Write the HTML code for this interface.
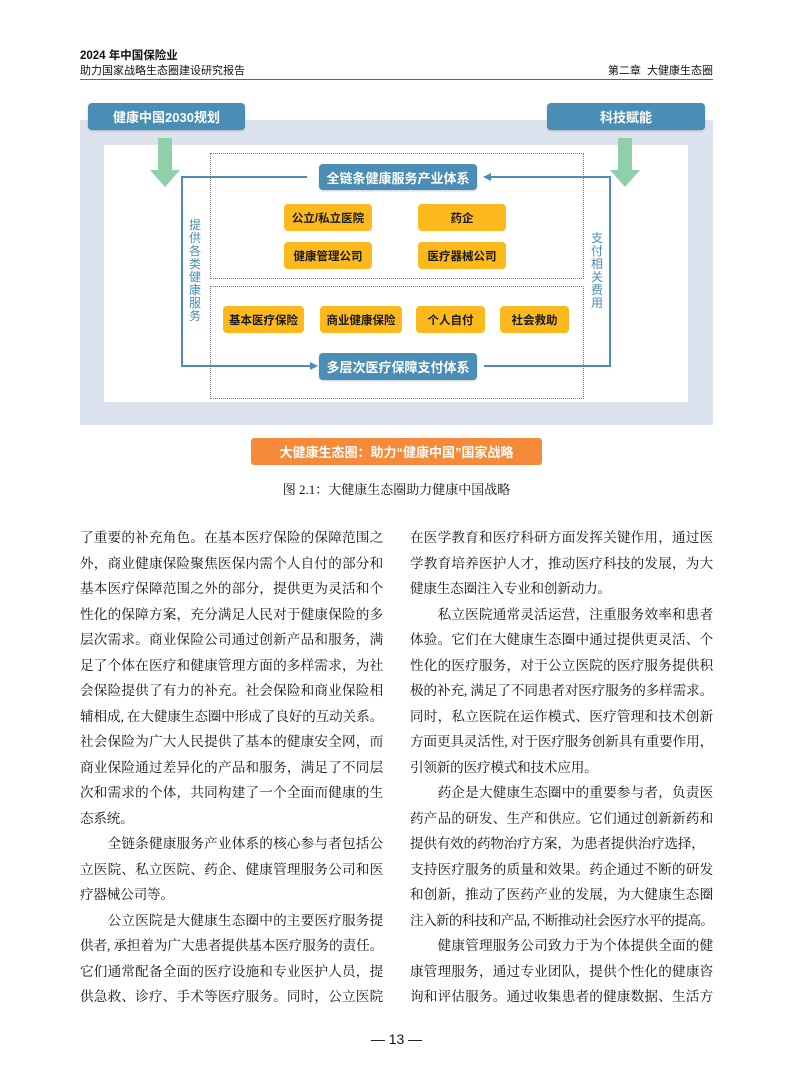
<!DOCTYPE html>
<html><head><meta charset="utf-8"><style>
body{margin:0;width:793px;height:1077px;background:#fff;position:relative;overflow:hidden;font-family:"Liberation Sans","Noto Sans CJK SC",sans-serif;color:#111}
.a{position:absolute}
.bb{position:absolute;background:#4a8db5;color:#fff;font-weight:bold;font-size:13px;display:flex;align-items:center;justify-content:center;border-radius:4px;box-shadow:0 1px 2px rgba(0,0,0,.2)}
.ob{position:absolute;background:#fbb91d;color:#1a1a1a;font-weight:bold;font-size:11.5px;display:flex;align-items:center;justify-content:center;border-radius:4px}
.dot{position:absolute;border:1.5px dotted #777}
.vt{position:absolute;color:#4a8db5;font-size:12px;width:14px;line-height:13px;text-align:center}
.col{position:absolute;width:303px;font-family:"Liberation Serif","Noto Serif CJK SC",serif;font-size:13.6px}
.col div{height:25.5px;line-height:25.5px;text-align:justify;text-align-last:justify;white-space:nowrap;letter-spacing:-0.2px}
.col div.l{text-align-last:left}
.col div.t{letter-spacing:-0.9px}
</style></head><body>
<div class="a" style="left:80px;top:47px;font-size:11.5px;font-weight:bold">2024 年中国保险业</div>
<div class="a" style="left:80px;top:62px;font-size:11px">助力国家战略生态圈建设研究报告</div>
<div class="a" style="right:80px;top:62px;font-size:11px">第二章&nbsp; 大健康生态圈</div>
<div class="a" style="left:80px;top:79px;width:633px;height:1px;background:#666"></div>

<div class="a" style="left:80px;top:120px;width:633px;height:305px;background:#dce3ee"></div>
<div class="a" style="left:104px;top:145px;width:584px;height:257px;background:#fff"></div>
<div class="bb" style="left:88px;top:103px;width:157px;height:27px">健康中国2030规划</div>
<div class="bb" style="left:547px;top:103px;width:158px;height:27px">科技赋能</div>
<svg class="a" style="left:0;top:0" width="793" height="500">
<polygon points="158,138 172,138 172,170 180,170 165,187 150,170 158,170" fill="#8fd0a8"/>
<polygon points="618,138 632,138 632,170 640,170 625,187 610,170 618,170" fill="#8fd0a8"/>
<polyline points="307,177 182,177 182,366 312,366" fill="none" stroke="#4a8db5" stroke-width="2"/>
<polygon points="318,366 310,362 310,370" fill="#4a8db5"/>
<polyline points="484,366 610,366 610,177 490,177" fill="none" stroke="#4a8db5" stroke-width="2"/>
<polygon points="483,177 491,173 491,181" fill="#4a8db5"/>
</svg>
<div class="dot" style="left:210px;top:153px;width:372px;height:124px"></div>
<div class="dot" style="left:210px;top:286px;width:372px;height:111px"></div>
<div class="bb" style="left:319px;top:164px;width:158px;height:26px">全链条健康服务产业体系</div>
<div class="ob" style="left:284px;top:204px;width:88px;height:27px">公立/私立医院</div>
<div class="ob" style="left:418px;top:204px;width:88px;height:27px">药企</div>
<div class="ob" style="left:284px;top:242px;width:88px;height:27px">健康管理公司</div>
<div class="ob" style="left:418px;top:242px;width:88px;height:27px">医疗器械公司</div>
<div class="ob" style="left:223px;top:306px;width:81px;height:27px">基本医疗保险</div>
<div class="ob" style="left:320px;top:306px;width:82px;height:27px">商业健康保险</div>
<div class="ob" style="left:416px;top:306px;width:69px;height:27px">个人自付</div>
<div class="ob" style="left:500px;top:306px;width:69px;height:27px">社会救助</div>
<div class="bb" style="left:319px;top:353px;width:158px;height:27px">多层次医疗保障支付体系</div>
<div class="vt" style="left:188px;top:219px">提供各类健康服务</div>
<div class="vt" style="left:590px;top:232px">支付相关费用</div>
<div class="a" style="left:251px;top:438px;width:291px;height:27px;background:#f58b3a;color:#fff;font-weight:bold;font-size:13px;display:flex;align-items:center;justify-content:center;border-radius:3px">大健康生态圈：助力“健康中国”国家战略</div>
<div class="a" style="left:0;width:793px;top:479px;text-align:center;font-size:13px;font-family:'Liberation Serif','Noto Serif CJK SC',serif">图 2.1：大健康生态圈助力健康中国战略</div>

<div class="col" style="left:80px;top:525px">
<div>了重要的补充角色。在基本医疗保险的保障范围之</div>
<div>外，商业健康保险聚焦医保内需个人自付的部分和</div>
<div>基本医疗保障范围之外的部分，提供更为灵活和个</div>
<div>性化的保障方案，充分满足人民对于健康保险的多</div>
<div>层次需求。商业保险公司通过创新产品和服务，满</div>
<div>足了个体在医疗和健康管理方面的多样需求，为社</div>
<div>会保险提供了有力的补充。社会保险和商业保险相</div>
<div>辅相成, 在大健康生态圈中形成了良好的互动关系。</div>
<div>社会保险为广大人民提供了基本的健康安全网，而</div>
<div>商业保险通过差异化的产品和服务，满足了不同层</div>
<div>次和需求的个体，共同构建了一个全面而健康的生</div>
<div class="l">态系统。</div>
<div>　　全链条健康服务产业体系的核心参与者包括公</div>
<div>立医院、私立医院、药企、健康管理服务公司和医</div>
<div class="l">疗器械公司等。</div>
<div>　　公立医院是大健康生态圈中的主要医疗服务提</div>
<div>供者, 承担着为广大患者提供基本医疗服务的责任。</div>
<div>它们通常配备全面的医疗设施和专业医护人员，提</div>
<div>供急救、诊疗、手术等医疗服务。同时，公立医院</div>
</div>
<div class="col" style="left:410px;top:525px">
<div>在医学教育和医疗科研方面发挥关键作用，通过医</div>
<div>学教育培养医护人才，推动医疗科技的发展，为大</div>
<div class="l">健康生态圈注入专业和创新动力。</div>
<div>　　私立医院通常灵活运营，注重服务效率和患者</div>
<div>体验。它们在大健康生态圈中通过提供更灵活、个</div>
<div>性化的医疗服务，对于公立医院的医疗服务提供积</div>
<div>极的补充, 满足了不同患者对医疗服务的多样需求。</div>
<div>同时，私立医院在运作模式、医疗管理和技术创新</div>
<div>方面更具灵活性, 对于医疗服务创新具有重要作用，</div>
<div class="l">引领新的医疗模式和技术应用。</div>
<div>　　药企是大健康生态圈中的重要参与者，负责医</div>
<div>药产品的研发、生产和供应。它们通过创新新药和</div>
<div class="l">提供有效的药物治疗方案，为患者提供治疗选择，</div>
<div>支持医疗服务的质量和效果。药企通过不断的研发</div>
<div>和创新，推动了医药产业的发展，为大健康生态圈</div>
<div class="t">注入新的科技和产品, 不断推动社会医疗水平的提高。</div>
<div>　　健康管理服务公司致力于为个体提供全面的健</div>
<div>康管理服务，通过专业团队，提供个性化的健康咨</div>
<div>询和评估服务。通过收集患者的健康数据、生活方</div>
</div>
<div class="a" style="left:0;width:793px;top:1031px;text-align:center;font-size:14px">— 13 —</div>
</body></html>
